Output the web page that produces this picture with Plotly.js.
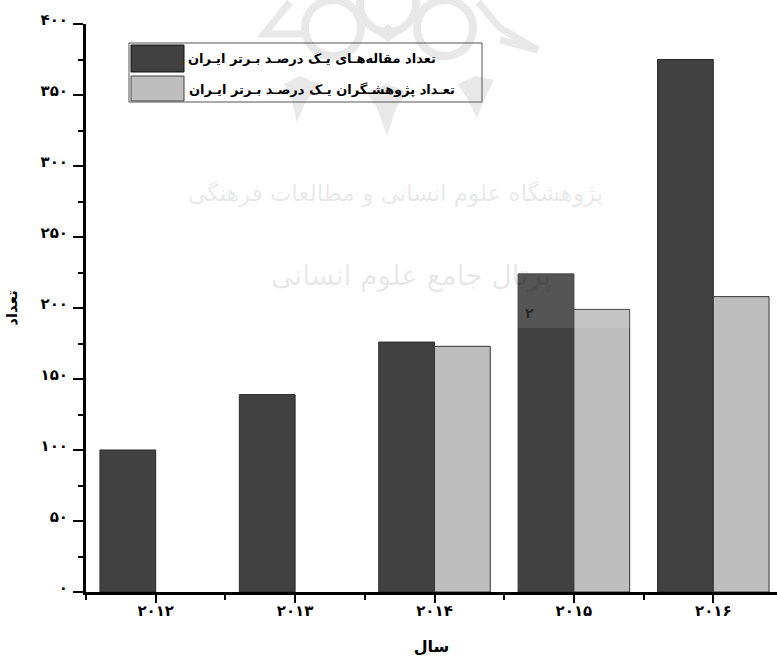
<!DOCTYPE html>
<html><head><meta charset="utf-8">
<script src="https://cdn.plot.ly/plotly-3.0.1.min.js"></script>
<style>html,body{margin:0;padding:0;background:#fff}</style></head>
<body><div id="c" style="width:777px;height:656px"></div>
<script>
const years=[2012,2013,2014,2015,2016];
const yearLabels=['۲۰۱۲','۲۰۱۳','۲۰۱۴','۲۰۱۵','۲۰۱۶'];
const articles=[100,139,176,224,375];
const researchers=[null,null,173,199,208];
const yTicks=[0,50,100,150,200,250,300,350,400];
const yLabels=['۰','۵۰','۱۰۰','۱۵۰','۲۰۰','۲۵۰','۳۰۰','۳۵۰','۴۰۰'];
const seriesNames=['تعداد مقاله‌هـای یـک درصـد بـرتر ایـران','تعـداد پژوهشـگران یـک درصـد بـرتر ایـران'];
const xTitle='سال', yTitle='تعداد';
const watermark=['پژوهشگاه علوم انسانی و مطالعات فرهنگی','پرتال جامع علوم انسانی'];
const dark='#414141', light='#bebebe', wm='#e8e8e8';
const W=777,H=656,L=86,T=24,B=64;
const px=v=>(v-L)/(W-L), py=v=>1-(v-T)/(H-T-B);
const font={family:'"DejaVu Sans", sans-serif',color:'#000',size:14,weight:700};
const pp=(x0,y0,x1,y1,o)=>Object.assign({type:'rect',xref:'paper',yref:'paper',x0:px(x0),x1:px(x1),y0:py(y0),y1:py(y1),layer:'above'},o);
const d=pts=>'M'+pts.map(p=>px(p[0])+','+py(p[1])).join('L');
const poly=pts=>({type:'path',xref:'paper',yref:'paper',layer:'below',line:{width:0},fillcolor:wm,path:d(pts)+'Z'});
const band=pts=>({type:'path',xref:'paper',yref:'paper',layer:'below',line:{color:wm,width:7},path:d(pts)});
const ring=(cx,cy,r)=>({type:'circle',xref:'paper',yref:'paper',layer:'below',x0:px(cx-r),x1:px(cx+r),y0:py(cy+r),y1:py(cy-r),
  line:{color:wm,width:8},fillcolor:'rgba(0,0,0,0)'});
const rosette=[
 poly([[366,92],[377,108],[387,136],[396,108],[408,92],[387,84]]),
 poly([[284,84],[292,100],[297,122],[305,103],[320,84],[300,76]]),
 poly([[458,84],[468,100],[477,118],[484,100],[494,80],[475,76]]),
 band([[290,2],[264,34],[306,34]]),
 band([[478,2],[500,28],[538,50],[500,40]]),
 ring(333,28,28),ring(445,28,28),ring(388,4,28),
 poly([[388,24],[400,33],[388,42],[376,33]])
];
const traces=[
 {type:'bar',x:years,y:articles,name:seriesNames[0],marker:{color:dark,line:{color:'#2a2a2a',width:1}}},
 {type:'bar',x:years,y:researchers,name:seriesNames[1],marker:{color:light,line:{color:'#333',width:1}}}
];
const layout={
 width:W,height:H,showlegend:false,paper_bgcolor:'#fff',plot_bgcolor:'rgba(0,0,0,0)',
 margin:{l:L,r:0,t:T,b:B,autoexpand:false},
 barmode:'group',bargap:0.2,bargroupgap:0,
 xaxis:{range:[2011.5,2011.5+(W-L)/139.4],tickmode:'array',tickvals:years,ticktext:yearLabels,
  showgrid:false,zeroline:false,showline:true,linecolor:'#000',linewidth:3,ticks:'outside',ticklen:8,tickwidth:2,tickcolor:'#000',
  tickfont:Object.assign({},font,{size:15}),ticklabelstandoff:-5,
  minor:{tickmode:'linear',tick0:2011.5,dtick:1,ticks:'outside',ticklen:5,tickwidth:2,tickcolor:'#000',showgrid:false},
  title:{text:xTitle,font:Object.assign({},font,{size:16}),standoff:25}},
 yaxis:{range:[0,400],tickmode:'array',tickvals:yTicks,ticktext:yLabels,
  showgrid:false,zeroline:false,showline:true,linecolor:'#000',linewidth:3,ticks:'outside',ticklen:10,tickwidth:2,tickcolor:'#000',
  tickfont:Object.assign({},font,{size:15}),ticklabelstandoff:2,ticklabelshift:-4,
  minor:{tickmode:'linear',tick0:25,dtick:50,ticks:'outside',ticklen:5,tickwidth:2,tickcolor:'#000',showgrid:false},
  title:{text:yTitle,font:Object.assign({},font,{size:15}),standoff:20}},
 shapes:rosette.concat([
  pp(129,43,482,102,{fillcolor:'rgba(255,255,255,0)',line:{color:'#555',width:1}}),
  pp(131,45,184,72,{fillcolor:dark,line:{color:'#111',width:1}}),
  pp(131,76,184,101,{fillcolor:light,line:{color:'#444',width:1}}),
  pp(518,274,630,328,{fillcolor:'rgba(255,255,255,0.11)',line:{width:0}})
 ]),
 annotations:[
  {xref:'paper',yref:'paper',x:px(438),y:py(59),text:seriesNames[0],showarrow:false,xanchor:'right',yanchor:'middle',font:Object.assign({},font,{size:13})},
  {xref:'paper',yref:'paper',x:px(457),y:py(89),text:seriesNames[1],showarrow:false,xanchor:'right',yanchor:'middle',font:Object.assign({},font,{size:13})},
  {xref:'paper',yref:'paper',x:px(605),y:py(193),text:watermark[0],showarrow:false,xanchor:'right',yanchor:'middle',font:{family:'"DejaVu Sans"',size:23,color:'rgba(0,0,0,0.1)'}},
  {xref:'paper',yref:'paper',x:px(553),y:py(275),text:watermark[1],showarrow:false,xanchor:'right',yanchor:'middle',font:{family:'"DejaVu Sans"',size:28,color:'rgba(0,0,0,0.1)'}},
  {xref:'paper',yref:'paper',x:px(529),y:py(313),text:'۲',showarrow:false,font:Object.assign({},font,{size:14,color:'#2a2a2a'})}
 ]
};
Plotly.newPlot('c',traces,layout,{displayModeBar:false,staticPlot:true});
</script></body></html>
